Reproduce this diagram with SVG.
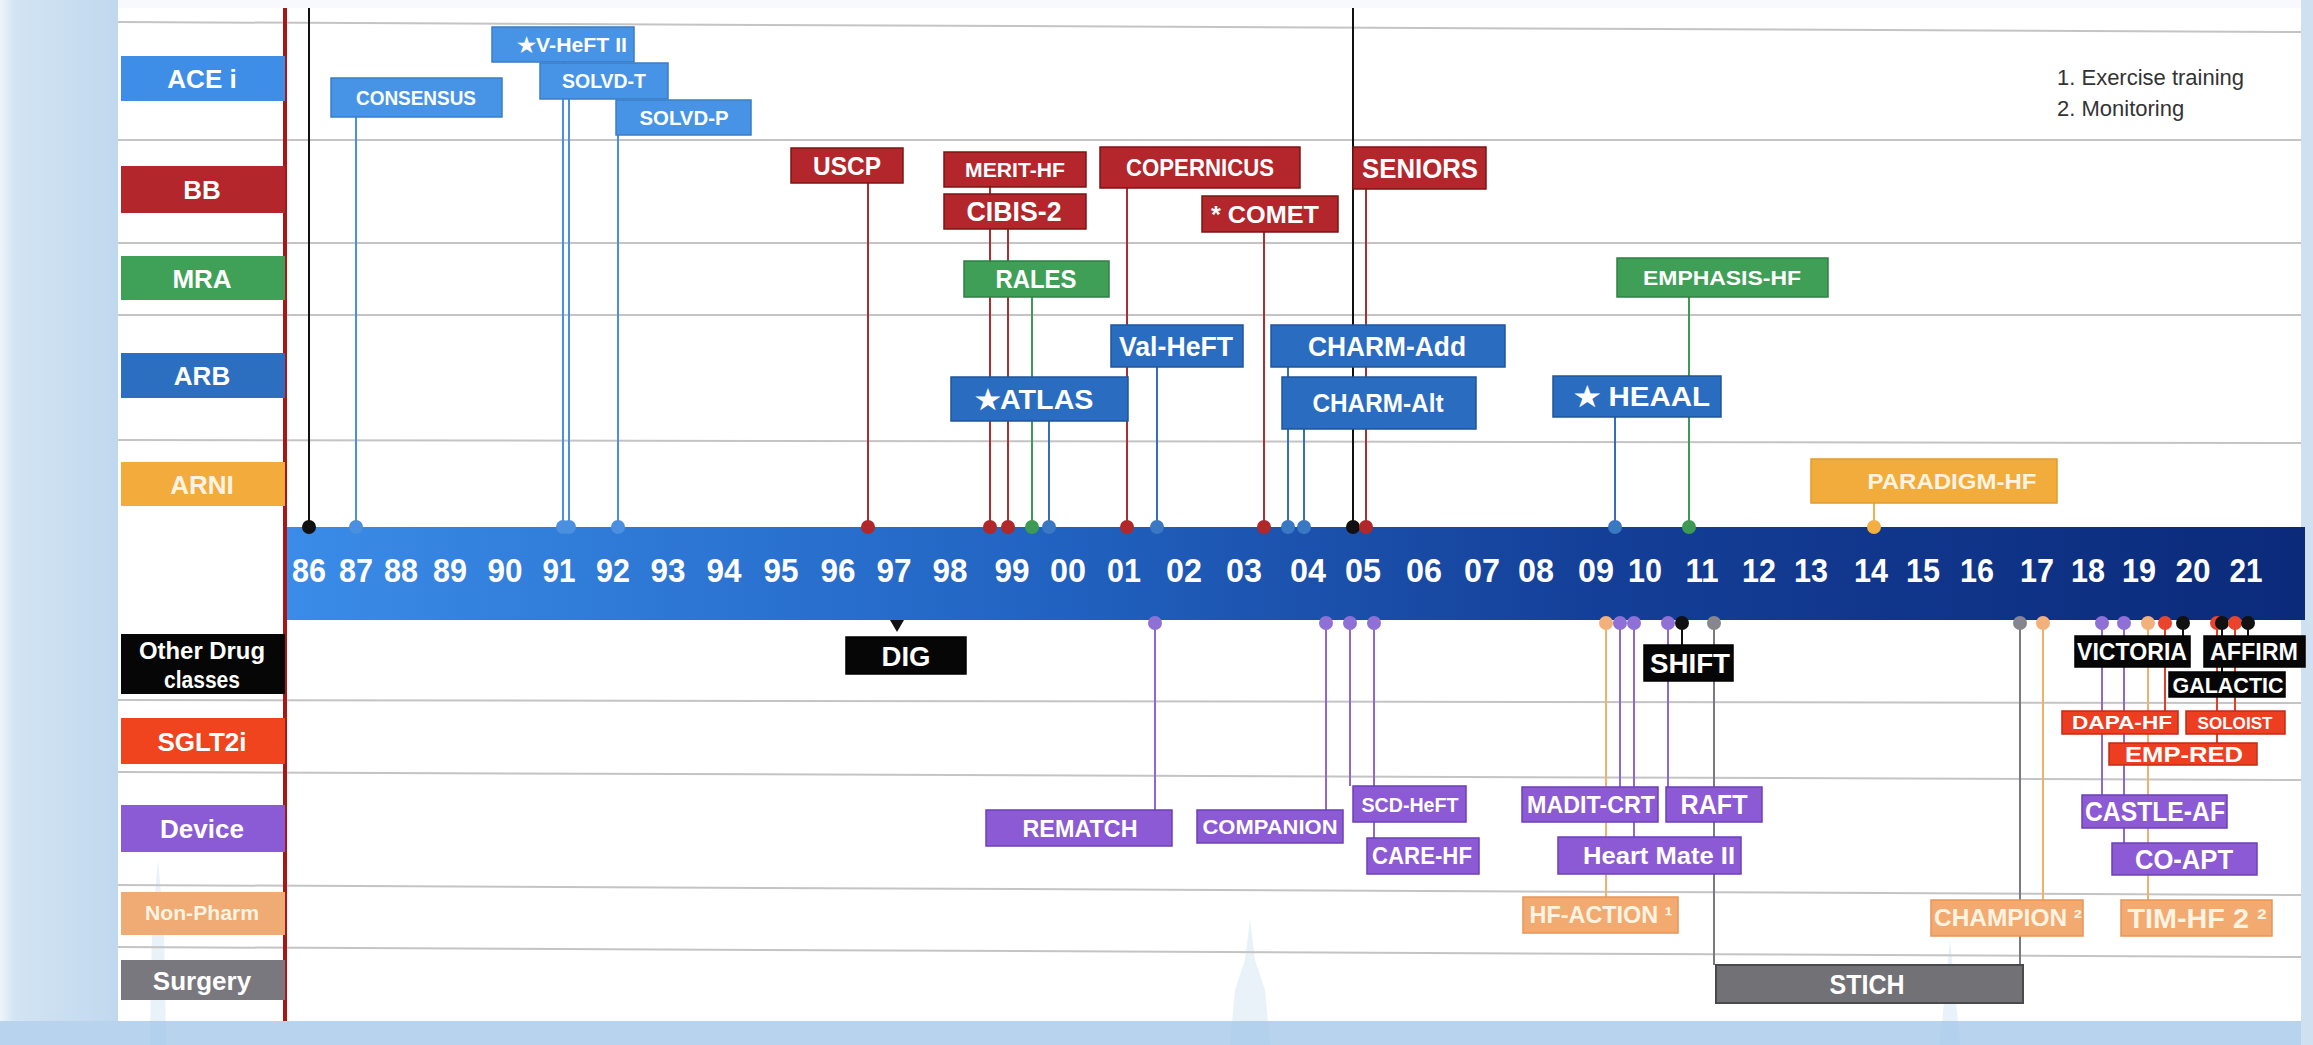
<svg xmlns="http://www.w3.org/2000/svg" width="2313" height="1045" viewBox="0 0 2313 1045">
  <defs>
    <linearGradient id="band" x1="0" y1="0" x2="1" y2="0">
      <stop offset="0" stop-color="#3a8ce8"/>
      <stop offset="0.35" stop-color="#2366c4"/>
      <stop offset="0.65" stop-color="#143f98"/>
      <stop offset="1" stop-color="#0b2a7a"/>
    </linearGradient>
    <linearGradient id="side" x1="0" y1="0" x2="1" y2="0">
      <stop offset="0" stop-color="#eef4fa"/>
      <stop offset="0.12" stop-color="#d3e4f3"/>
      <stop offset="1" stop-color="#c0d8ee"/>
    </linearGradient>
    <style>
      text { font-family: "Liberation Sans", Arial, sans-serif; font-weight: bold; fill: #ffffff; text-anchor: middle; }
      .grid { stroke: #c4c4c4; stroke-width: 2; fill: none; }
      .cat { font-size: 26px; }
      .yr { font-size: 33px; }
      .legend { font-weight: normal; fill: #333333; text-anchor: start; font-size: 22px; }
      .c { stroke-width: 2; fill: none; }
      .ace { fill: #4794e6; stroke: #3a7dc9; stroke-width: 1.5; }
      .bb { fill: #b3262b; stroke: #7d1515; stroke-width: 1.5; }
      .mra { fill: #3f9f57; stroke: #2f8044; stroke-width: 1.5; }
      .arb { fill: #2a6cc0; stroke: #1f559a; stroke-width: 1.5; }
      .arni { fill: #f2ac3b; stroke: #e39a2a; stroke-width: 1.5; }
      .blk { fill: #060606; stroke: #000000; stroke-width: 1.5; }
      .sglt { fill: #ee3e22; stroke: #c42a15; stroke-width: 1.5; }
      .dev { fill: #8b5ad4; stroke: #6c40b8; stroke-width: 1.5; }
      .np { fill: #f2aa70; stroke: #e39658; stroke-width: 1.5; }
      .surg { fill: #717176; stroke: #4a4a4e; stroke-width: 2; }
      .lt { fill: #fff4e2; }
      .l-ace { stroke: #4a8fe0; } .d-ace { fill: #4a8fe0; }
      .l-bb { stroke: #a83030; } .d-bb { fill: #b0282a; }
      .l-mra { stroke: #3d9a55; } .d-mra { fill: #3d9a55; }
      .l-arb { stroke: #3470b8; } .d-arb { fill: #3a78c4; }
      .l-arni { stroke: #f0b050; } .d-arni { fill: #f3b040; }
      .l-blk { stroke: #111111; } .d-blk { fill: #111111; }
      .l-np { stroke: #f0b070; } .d-np { fill: #f2b07a; }
      .l-dev { stroke: #8d6ad2; } .d-dev { fill: #8e70d6; }
      .l-surg { stroke: #7a7a80; } .d-surg { fill: #86868c; }
      .l-sglt { stroke: #e0402a; } .d-sglt { fill: #e8452c; }
    </style>
  </defs>

  <!-- backdrop -->
  <rect x="0" y="0" width="2313" height="1045" fill="#f7f9fc"/>
  <rect x="0" y="0" width="118" height="1045" fill="url(#side)"/>
  <rect x="0" y="1021" width="2313" height="24" fill="#b7d3ee"/>
  <rect x="2301" y="0" width="12" height="1045" fill="#cfe0f0"/>
  <rect x="118" y="8" width="2183" height="1013" fill="#ffffff"/>

  <!-- faint skyline -->
  <g fill="#a9c8e6" opacity="0.25">
    <path d="M150 1045 L152 930 L158 860 L164 930 L166 1045 Z"/>
    <path d="M1230 1045 L1235 990 L1245 960 L1250 920 L1255 960 L1265 990 L1270 1045 Z"/>
    <path d="M1940 1045 L1945 990 L1950 940 L1955 990 L1960 1045 Z"/>
  </g>

  <!-- row rules -->
  <g id="grid">
    <line class="grid" x1="118" y1="22" x2="2301" y2="32"/>
    <line class="grid" x1="118" y1="140" x2="2301" y2="140"/>
    <line class="grid" x1="118" y1="243" x2="2301" y2="243"/>
    <line class="grid" x1="118" y1="315" x2="2301" y2="315"/>
    <line class="grid" x1="118" y1="440" x2="2301" y2="443"/>
    <line class="grid" x1="118" y1="700" x2="2301" y2="703"/>
    <line class="grid" x1="118" y1="772" x2="2301" y2="780"/>
    <line class="grid" x1="118" y1="885" x2="2301" y2="895"/>
    <line class="grid" x1="118" y1="947" x2="2301" y2="957"/>
  </g>

  <!-- timeline band -->
  <g id="timeline">
    <rect x="287" y="527" width="2018" height="93" fill="url(#band)"/>
    <text class="yr" x="309" y="582" textLength="34" lengthAdjust="spacingAndGlyphs">86</text>
    <text class="yr" x="356" y="582" textLength="34" lengthAdjust="spacingAndGlyphs">87</text>
    <text class="yr" x="401" y="582" textLength="34" lengthAdjust="spacingAndGlyphs">88</text>
    <text class="yr" x="450" y="582" textLength="34" lengthAdjust="spacingAndGlyphs">89</text>
    <text class="yr" x="505" y="582" textLength="35" lengthAdjust="spacingAndGlyphs">90</text>
    <text class="yr" x="559" y="582" textLength="33" lengthAdjust="spacingAndGlyphs">91</text>
    <text class="yr" x="613" y="582" textLength="34" lengthAdjust="spacingAndGlyphs">92</text>
    <text class="yr" x="668" y="582" textLength="35" lengthAdjust="spacingAndGlyphs">93</text>
    <text class="yr" x="724" y="582" textLength="35" lengthAdjust="spacingAndGlyphs">94</text>
    <text class="yr" x="781" y="582" textLength="35" lengthAdjust="spacingAndGlyphs">95</text>
    <text class="yr" x="838" y="582" textLength="35" lengthAdjust="spacingAndGlyphs">96</text>
    <text class="yr" x="894" y="582" textLength="35" lengthAdjust="spacingAndGlyphs">97</text>
    <text class="yr" x="950" y="582" textLength="35" lengthAdjust="spacingAndGlyphs">98</text>
    <text class="yr" x="1012" y="582" textLength="35" lengthAdjust="spacingAndGlyphs">99</text>
    <text class="yr" x="1068" y="582" textLength="36" lengthAdjust="spacingAndGlyphs">00</text>
    <text class="yr" x="1124" y="582" textLength="34" lengthAdjust="spacingAndGlyphs">01</text>
    <text class="yr" x="1184" y="582" textLength="36" lengthAdjust="spacingAndGlyphs">02</text>
    <text class="yr" x="1244" y="582" textLength="36" lengthAdjust="spacingAndGlyphs">03</text>
    <text class="yr" x="1308" y="582" textLength="36" lengthAdjust="spacingAndGlyphs">04</text>
    <text class="yr" x="1363" y="582" textLength="36" lengthAdjust="spacingAndGlyphs">05</text>
    <text class="yr" x="1424" y="582" textLength="36" lengthAdjust="spacingAndGlyphs">06</text>
    <text class="yr" x="1482" y="582" textLength="36" lengthAdjust="spacingAndGlyphs">07</text>
    <text class="yr" x="1536" y="582" textLength="36" lengthAdjust="spacingAndGlyphs">08</text>
    <text class="yr" x="1596" y="582" textLength="36" lengthAdjust="spacingAndGlyphs">09</text>
    <text class="yr" x="1645" y="582" textLength="34" lengthAdjust="spacingAndGlyphs">10</text>
    <text class="yr" x="1702" y="582" textLength="33" lengthAdjust="spacingAndGlyphs">11</text>
    <text class="yr" x="1759" y="582" textLength="34" lengthAdjust="spacingAndGlyphs">12</text>
    <text class="yr" x="1811" y="582" textLength="34" lengthAdjust="spacingAndGlyphs">13</text>
    <text class="yr" x="1871" y="582" textLength="34" lengthAdjust="spacingAndGlyphs">14</text>
    <text class="yr" x="1923" y="582" textLength="34" lengthAdjust="spacingAndGlyphs">15</text>
    <text class="yr" x="1977" y="582" textLength="34" lengthAdjust="spacingAndGlyphs">16</text>
    <text class="yr" x="2037" y="582" textLength="34" lengthAdjust="spacingAndGlyphs">17</text>
    <text class="yr" x="2088" y="582" textLength="34" lengthAdjust="spacingAndGlyphs">18</text>
    <text class="yr" x="2139" y="582" textLength="34" lengthAdjust="spacingAndGlyphs">19</text>
    <text class="yr" x="2193" y="582" textLength="35" lengthAdjust="spacingAndGlyphs">20</text>
    <text class="yr" x="2246" y="582" textLength="33" lengthAdjust="spacingAndGlyphs">21</text>
  </g>

  <!-- connectors: stems and pins -->
  <g id="connectors">
    <line class="c l-blk" x1="309" y1="8" x2="309" y2="527"/>
    <line class="c l-ace" x1="356" y1="117" x2="356" y2="527"/>
    <line class="c l-ace" x1="563" y1="62" x2="563" y2="527"/>
    <line class="c l-ace" x1="569" y1="99" x2="569" y2="527"/>
    <line class="c l-ace" x1="618" y1="135" x2="618" y2="527"/>
    <line class="c l-bb" x1="868" y1="183" x2="868" y2="527"/>
    <line class="c l-bb" x1="990" y1="187" x2="990" y2="527"/>
    <line class="c l-bb" x1="1008" y1="229" x2="1008" y2="527"/>
    <line class="c l-mra" x1="1032" y1="297" x2="1032" y2="527"/>
    <line class="c l-arb" x1="1049" y1="421" x2="1049" y2="527"/>
    <line class="c l-bb" x1="1127" y1="188" x2="1127" y2="527"/>
    <line class="c l-arb" x1="1157" y1="367" x2="1157" y2="527"/>
    <line class="c l-bb" x1="1264" y1="232" x2="1264" y2="527"/>
    <line class="c l-arb" x1="1288" y1="367" x2="1288" y2="527"/>
    <line class="c l-arb" x1="1304" y1="429" x2="1304" y2="527"/>
    <line class="c l-blk" x1="1353" y1="8" x2="1353" y2="527"/>
    <line class="c l-bb" x1="1366" y1="189" x2="1366" y2="527"/>
    <line class="c l-arb" x1="1615" y1="417" x2="1615" y2="527"/>
    <line class="c l-mra" x1="1689" y1="297" x2="1689" y2="527"/>
    <line class="c l-arni" x1="1874" y1="503" x2="1874" y2="527"/>

    <line class="c l-dev" x1="1155" y1="623" x2="1155" y2="810"/>
    <line class="c l-dev" x1="1326" y1="623" x2="1326" y2="810"/>
    <line class="c l-dev" x1="1350" y1="623" x2="1350" y2="786"/>
    <line class="c l-dev" x1="1374" y1="623" x2="1374" y2="838"/>
    <line class="c l-np" x1="1606" y1="623" x2="1606" y2="897"/>
    <line class="c l-dev" x1="1620" y1="623" x2="1620" y2="787"/>
    <line class="c l-dev" x1="1634" y1="623" x2="1634" y2="837"/>
    <line class="c l-dev" x1="1668" y1="623" x2="1668" y2="787"/>
    <line class="c l-blk" x1="1682" y1="623" x2="1682" y2="645"/>
    <line class="c l-surg" x1="1714" y1="623" x2="1714" y2="965"/>
    <line class="c l-surg" x1="2020" y1="623" x2="2020" y2="965"/>
    <line class="c l-np" x1="2043" y1="623" x2="2043" y2="900"/>
    <line class="c l-dev" x1="2102" y1="623" x2="2102" y2="795"/>
    <line class="c l-dev" x1="2124" y1="623" x2="2124" y2="843"/>
    <line class="c l-np" x1="2148" y1="623" x2="2148" y2="900"/>
    <line class="c l-sglt" x1="2165" y1="623" x2="2165" y2="711"/>
    <line class="c l-blk" x1="2183" y1="623" x2="2183" y2="636"/>
    <line class="c l-sglt" x1="2217" y1="623" x2="2217" y2="743"/>
    <line class="c l-blk" x1="2222" y1="623" x2="2222" y2="672"/>
    <line class="c l-sglt" x1="2235" y1="623" x2="2235" y2="711"/>
    <line class="c l-blk" x1="2248" y1="623" x2="2248" y2="636"/>

    <!-- pins on the upper edge -->
    <circle class="d-blk" cx="309" cy="527" r="7"/>
    <circle class="d-ace" cx="356" cy="527" r="7"/>
    <circle class="d-ace" cx="563" cy="527" r="7"/>
    <circle class="d-ace" cx="569" cy="527" r="7"/>
    <circle class="d-ace" cx="618" cy="527" r="7"/>
    <circle class="d-bb" cx="868" cy="527" r="7"/>
    <circle class="d-bb" cx="990" cy="527" r="7"/>
    <circle class="d-bb" cx="1008" cy="527" r="7"/>
    <circle class="d-mra" cx="1032" cy="527" r="7"/>
    <circle class="d-arb" cx="1049" cy="527" r="7"/>
    <circle class="d-bb" cx="1127" cy="527" r="7"/>
    <circle class="d-arb" cx="1157" cy="527" r="7"/>
    <circle class="d-bb" cx="1264" cy="527" r="7"/>
    <circle class="d-arb" cx="1288" cy="527" r="7"/>
    <circle class="d-arb" cx="1304" cy="527" r="7"/>
    <circle class="d-blk" cx="1353" cy="527" r="7"/>
    <circle class="d-bb" cx="1366" cy="527" r="7"/>
    <circle class="d-arb" cx="1615" cy="527" r="7"/>
    <circle class="d-mra" cx="1689" cy="527" r="7"/>
    <circle class="d-arni" cx="1874" cy="527" r="7"/>

    <!-- pins on the lower edge -->
    <path class="d-blk" d="M890 620 L904 620 L897 632 Z"/>
    <circle class="d-dev" cx="1155" cy="623" r="7"/>
    <circle class="d-dev" cx="1326" cy="623" r="7"/>
    <circle class="d-dev" cx="1350" cy="623" r="7"/>
    <circle class="d-dev" cx="1374" cy="623" r="7"/>
    <circle class="d-np" cx="1606" cy="623" r="7"/>
    <circle class="d-dev" cx="1620" cy="623" r="7"/>
    <circle class="d-dev" cx="1634" cy="623" r="7"/>
    <circle class="d-dev" cx="1668" cy="623" r="7"/>
    <circle class="d-blk" cx="1682" cy="623" r="7"/>
    <circle class="d-surg" cx="1714" cy="623" r="7"/>
    <circle class="d-surg" cx="2020" cy="623" r="7"/>
    <circle class="d-np" cx="2043" cy="623" r="7"/>
    <circle class="d-dev" cx="2102" cy="623" r="7"/>
    <circle class="d-dev" cx="2124" cy="623" r="7"/>
    <circle class="d-np" cx="2148" cy="623" r="7"/>
    <circle class="d-sglt" cx="2165" cy="623" r="7"/>
    <circle class="d-blk" cx="2183" cy="623" r="7"/>
    <circle class="d-sglt" cx="2217" cy="623" r="7"/>
    <circle class="d-blk" cx="2222" cy="623" r="7"/>
    <circle class="d-sglt" cx="2235" cy="623" r="7"/>
    <circle class="d-blk" cx="2248" cy="623" r="7"/>
  </g>

  <!-- divider at the start of the time axis -->
  <line x1="285" y1="8" x2="285" y2="1021" stroke="#a81616" stroke-width="4"/>

  <!-- row headers -->
  <g id="cat-ace"><rect x="121" y="56" width="164" height="45" fill="#3e8ee8"/><text class="cat" x="202" y="88">ACE i</text></g>
  <g id="cat-bb"><rect x="121" y="166" width="164" height="47" fill="#b3262b"/><text class="cat" x="202" y="199">BB</text></g>
  <g id="cat-mra"><rect x="121" y="256" width="164" height="44" fill="#3fa158"/><text class="cat" x="202" y="288">MRA</text></g>
  <g id="cat-arb"><rect x="121" y="353" width="164" height="45" fill="#2c6ec0"/><text class="cat" x="202" y="385">ARB</text></g>
  <g id="cat-arni"><rect x="121" y="462" width="164" height="44" fill="#f3ac3c"/><text class="cat lt" x="202" y="494">ARNI</text></g>
  <g id="cat-other"><rect x="121" y="634" width="164" height="60" fill="#060606"/><text x="202" y="659" font-size="23" textLength="126" lengthAdjust="spacingAndGlyphs">Other Drug</text><text x="202" y="688" font-size="23" textLength="76" lengthAdjust="spacingAndGlyphs">classes</text></g>
  <g id="cat-sglt2i"><rect x="121" y="718" width="164" height="46" fill="#f0441f"/><text class="cat" x="202" y="751">SGLT2i</text></g>
  <g id="cat-device"><rect x="121" y="805" width="164" height="47" fill="#8b5bd6"/><text class="cat" x="202" y="838">Device</text></g>
  <g id="cat-nonpharm"><rect x="121" y="892" width="164" height="43" fill="#f0aa74"/><text class="lt" x="202" y="920" font-size="20" textLength="114" lengthAdjust="spacingAndGlyphs">Non-Pharm</text></g>
  <g id="cat-surgery"><rect x="121" y="960" width="164" height="40" fill="#78787e"/><text class="cat" x="202" y="990">Surgery</text></g>

  <!-- legend -->
  <text class="legend" x="2057" y="85">1. Exercise training</text>
  <text class="legend" x="2057" y="116">2. Monitoring</text>

  <!-- trials above the axis -->
  <g id="consensus"><rect class="ace" x="331" y="78" width="171" height="39"/><text x="416" y="104.5" font-size="20" textLength="120" lengthAdjust="spacingAndGlyphs">CONSENSUS</text></g>
  <g id="vheft2"><rect class="ace" x="492" y="27" width="142" height="35"/><text x="572" y="51.5" font-size="20" textLength="110" lengthAdjust="spacingAndGlyphs">★V-HeFT II</text></g>
  <g id="solvd-t"><rect class="ace" x="540" y="63" width="128" height="36"/><text x="604" y="88" font-size="20" textLength="84" lengthAdjust="spacingAndGlyphs">SOLVD-T</text></g>
  <g id="solvd-p"><rect class="ace" x="616" y="100" width="135" height="35"/><text x="684" y="124.5" font-size="20" textLength="89" lengthAdjust="spacingAndGlyphs">SOLVD-P</text></g>
  <g id="uscp"><rect class="bb" x="791" y="148" width="112" height="35"/><text x="847" y="174.5" font-size="26" textLength="68" lengthAdjust="spacingAndGlyphs">USCP</text></g>
  <g id="merit-hf"><rect class="bb" x="944" y="152" width="142" height="35"/><text x="1015" y="176.5" font-size="20" textLength="100" lengthAdjust="spacingAndGlyphs">MERIT-HF</text></g>
  <g id="cibis-2"><rect class="bb" x="944" y="194" width="142" height="35"/><text x="1014" y="221" font-size="27" textLength="95" lengthAdjust="spacingAndGlyphs">CIBIS-2</text></g>
  <g id="copernicus"><rect class="bb" x="1100" y="147" width="200" height="41"/><text x="1200" y="175.5" font-size="23" textLength="148" lengthAdjust="spacingAndGlyphs">COPERNICUS</text></g>
  <g id="comet"><rect class="bb" x="1202" y="196" width="136" height="36"/><text x="1265" y="222.5" font-size="24" textLength="108" lengthAdjust="spacingAndGlyphs">* COMET</text></g>
  <g id="seniors"><rect class="bb" x="1353" y="147" width="133" height="42"/><text x="1420" y="177.5" font-size="27" textLength="116" lengthAdjust="spacingAndGlyphs">SENIORS</text></g>
  <g id="rales"><rect class="mra" x="964" y="261" width="145" height="36"/><text x="1036" y="288" font-size="25" textLength="81" lengthAdjust="spacingAndGlyphs">RALES</text></g>
  <g id="emphasis-hf"><rect class="mra" x="1617" y="258" width="211" height="39"/><text x="1722" y="285" font-size="21" textLength="158" lengthAdjust="spacingAndGlyphs">EMPHASIS-HF</text></g>
  <g id="val-heft"><rect class="arb" x="1111" y="325" width="132" height="42"/><text x="1176" y="355.5" font-size="27" textLength="114" lengthAdjust="spacingAndGlyphs">Val-HeFT</text></g>
  <g id="charm-add"><rect class="arb" x="1271" y="325" width="234" height="42"/><text x="1387" y="355.5" font-size="27" textLength="158" lengthAdjust="spacingAndGlyphs">CHARM-Add</text></g>
  <g id="charm-alt"><rect class="arb" x="1282" y="377" width="194" height="52"/><text x="1378" y="412" font-size="25" textLength="131" lengthAdjust="spacingAndGlyphs">CHARM-Alt</text></g>
  <g id="atlas"><rect class="arb" x="951" y="377" width="177" height="44"/><text x="1034" y="408.5" font-size="27" textLength="119" lengthAdjust="spacingAndGlyphs">★ATLAS</text></g>
  <g id="heaal"><rect class="arb" x="1553" y="376" width="168" height="41"/><text x="1642" y="406" font-size="27" textLength="136" lengthAdjust="spacingAndGlyphs">★ HEAAL</text></g>
  <g id="paradigm-hf"><rect class="arni" x="1811" y="459" width="246" height="44"/><text class="lt" x="1952" y="489" font-size="22" textLength="169" lengthAdjust="spacingAndGlyphs">PARADIGM-HF</text></g>

  <!-- trials below the axis -->
  <g id="dig"><rect class="blk" x="846" y="637" width="120" height="37"/><text x="906" y="665.5" font-size="28" textLength="49" lengthAdjust="spacingAndGlyphs">DIG</text></g>
  <g id="shift"><rect class="blk" x="1644" y="645" width="89" height="36"/><text x="1690" y="673" font-size="28" textLength="80" lengthAdjust="spacingAndGlyphs">SHIFT</text></g>
  <g id="victoria"><rect class="blk" x="2075" y="636" width="115" height="31"/><text x="2132" y="660" font-size="24" textLength="110" lengthAdjust="spacingAndGlyphs">VICTORIA</text></g>
  <g id="affirm"><rect class="blk" x="2204" y="636" width="101" height="31"/><text x="2254" y="660" font-size="24" textLength="88" lengthAdjust="spacingAndGlyphs">AFFIRM</text></g>
  <g id="galactic"><rect class="blk" x="2169" y="672" width="116" height="25"/><text x="2228" y="692.5" font-size="22" textLength="111" lengthAdjust="spacingAndGlyphs">GALACTIC</text></g>
  <g id="dapa-hf"><rect class="sglt" x="2062" y="711" width="116" height="23"/><text x="2122" y="729" font-size="18" textLength="100" lengthAdjust="spacingAndGlyphs">DAPA-HF</text></g>
  <g id="soloist"><rect class="sglt" x="2186" y="711" width="99" height="23"/><text x="2235" y="729" font-size="17" textLength="75" lengthAdjust="spacingAndGlyphs">SOLOIST</text></g>
  <g id="emp-red"><rect class="sglt" x="2109" y="743" width="148" height="22"/><text x="2184" y="762" font-size="22" textLength="118" lengthAdjust="spacingAndGlyphs">EMP-RED</text></g>
  <g id="rematch"><rect class="dev" x="986" y="810" width="186" height="36"/><text x="1080" y="836.5" font-size="24" textLength="115" lengthAdjust="spacingAndGlyphs">REMATCH</text></g>
  <g id="companion"><rect class="dev" x="1197" y="810" width="146" height="33"/><text x="1270" y="834" font-size="21" textLength="135" lengthAdjust="spacingAndGlyphs">COMPANION</text></g>
  <g id="scd-heft"><rect class="dev" x="1353" y="786" width="113" height="36"/><text x="1410" y="811.5" font-size="21" textLength="97" lengthAdjust="spacingAndGlyphs">SCD-HeFT</text></g>
  <g id="care-hf"><rect class="dev" x="1367" y="838" width="112" height="36"/><text x="1422" y="864" font-size="23" textLength="100" lengthAdjust="spacingAndGlyphs">CARE-HF</text></g>
  <g id="madit-crt"><rect class="dev" x="1522" y="787" width="136" height="35"/><text x="1591" y="812.5" font-size="23" textLength="128" lengthAdjust="spacingAndGlyphs">MADIT-CRT</text></g>
  <g id="raft"><rect class="dev" x="1666" y="787" width="96" height="35"/><text x="1714" y="814" font-size="27" textLength="67" lengthAdjust="spacingAndGlyphs">RAFT</text></g>
  <g id="heartmate-ii"><rect class="dev" x="1558" y="837" width="183" height="37"/><text x="1659" y="864" font-size="24" textLength="152" lengthAdjust="spacingAndGlyphs">Heart Mate II</text></g>
  <g id="castle-af"><rect class="dev" x="2082" y="795" width="145" height="33"/><text x="2155" y="821" font-size="27" textLength="140" lengthAdjust="spacingAndGlyphs">CASTLE-AF</text></g>
  <g id="co-apt"><rect class="dev" x="2112" y="843" width="145" height="32"/><text x="2184" y="868.5" font-size="27" textLength="98" lengthAdjust="spacingAndGlyphs">CO-APT</text></g>
  <g id="hf-action"><rect class="np" x="1523" y="897" width="155" height="36"/><text class="lt" x="1601" y="923" font-size="23" textLength="143" lengthAdjust="spacingAndGlyphs">HF-ACTION ¹</text></g>
  <g id="champion"><rect class="np" x="1931" y="900" width="152" height="36"/><text class="lt" x="2008" y="926" font-size="23" textLength="148" lengthAdjust="spacingAndGlyphs">CHAMPION ²</text></g>
  <g id="tim-hf2"><rect class="np" x="2121" y="900" width="151" height="36"/><text class="lt" x="2197" y="927.5" font-size="27" textLength="139" lengthAdjust="spacingAndGlyphs">TIM-HF 2 ²</text></g>
  <g id="stich"><rect class="surg" x="1716" y="965" width="307" height="38"/><text x="1867" y="993.5" font-size="27" textLength="75" lengthAdjust="spacingAndGlyphs">STICH</text></g>
</svg>
